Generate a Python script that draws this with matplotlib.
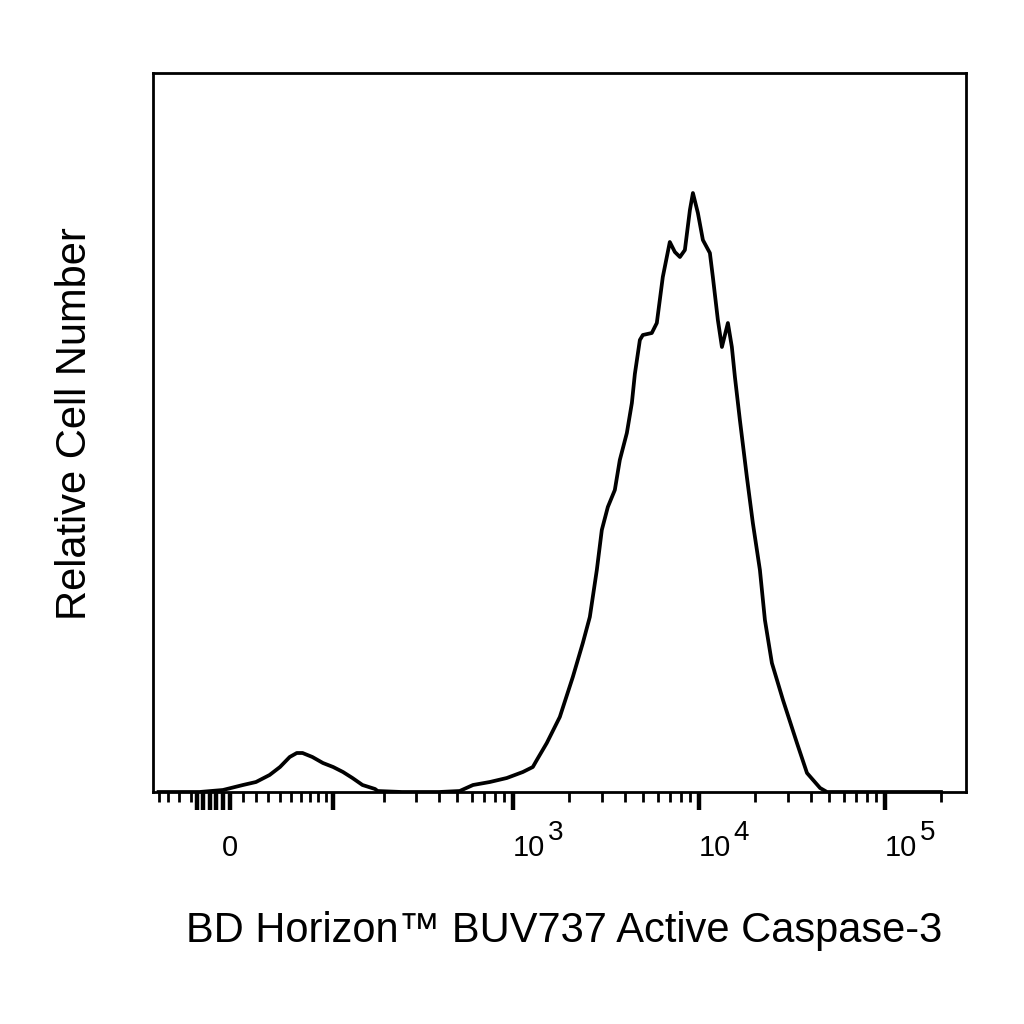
import numpy as np
import matplotlib.pyplot as plt
import matplotlib.transforms as mtransforms

plt.rcParams.update({
    'font.family': 'Liberation Sans',
})

# Histogram trace (fluorescence value, relative count)
dim_x = [-60, -23, -5, 10, 20, 31, 40, 49, 56, 62, 73, 86, 100, 115, 131, 150, 177, 183, 250, 400]
dim_y = [0, 0, 2, 7, 10, 17, 25, 35, 39, 39, 35, 29, 25, 20, 14, 7, 3, 1, 0, 0]

bright_x = [517, 610, 752, 928, 1132, 1281, 1346, 1523, 1789, 2102, 2379, 2594, 2829,
            3009, 3242, 3535, 3760, 4102, 4365, 4529, 4819, 5000, 5585, 5943, 6400,
            6980, 7430, 7910, 8410, 8950, 9290, 9880, 10510, 11460, 11890, 12650,
            13300, 14320, 15040, 15620, 16610, 18110, 19500, 21280, 22640, 24680,
            28310, 33650, 38100, 44800, 48800, 200000]
bright_y = [1, 7, 10, 14, 20, 25, 32, 49, 75, 115, 149, 175, 222,
            262, 285, 302, 332, 359, 389, 418, 452, 457, 459, 469, 515,
            550, 540, 535, 542, 582, 599, 579, 552, 539, 515, 472,
            445, 469, 445, 415, 372, 315, 269, 222, 172, 129,
            92, 49, 19, 4, 0, 0]

major_ticks = [-25, -20, -15, -10, -5, 0, 1e2, 1e3, 1e4, 1e5]
major_labels = ['', '', '', '', '', '0', '', '10', '10', '10']
decade_exps = {1e3: '3', 1e4: '4', 1e5: '5'}
minor_ticks = ([-v for v in range(30, 100, 10)] + list(range(10, 100, 10))
               + [m * 10**e for e in (2, 3, 4) for m in range(2, 10)] + [2e5])

W = 60.2  # width of the linear part of the biexponential axis


def fwd(v):
    return np.arcsinh(np.asarray(v, dtype=float) / W) / np.log(10)


def inv(p):
    return W * np.sinh(np.asarray(p, dtype=float) * np.log(10))


fig = plt.figure(figsize=(10.24, 10.24), dpi=100)
ax = fig.add_axes([153 / 1024, 1 - 792 / 1024, 813 / 1024, 719 / 1024])

ax.plot(dim_x + bright_x, dim_y + bright_y, color='black', lw=2.7,
        solid_joinstyle='round')

ax.set_xscale('function', functions=(fwd, inv))

ax.set_xticks(major_ticks)
ax.set_xticklabels(major_labels, fontsize=21)
ax.set_xticks(minor_ticks, minor=True)
ax.tick_params(axis='x', which='major', direction='out', length=13, width=3.2, pad=17)
ax.tick_params(axis='x', which='minor', direction='out', length=7.5, width=2)
for lab in ax.get_xticklabels()[7:]:
    lab.set_horizontalalignment('left')
ax.set_yticks([])

# limits after the ticks, so the ticks do not stretch the view
ax.set_xlim(-66, 272500)
ax.set_ylim(0, 719)

# exponents of the decade labels
exp_tr = (mtransforms.blended_transform_factory(ax.transData, ax.transAxes)
          + mtransforms.ScaledTranslation(0.35, 0, fig.dpi_scale_trans))
for tick, e in decade_exps.items():
    ax.text(tick, -0.0668, e, transform=exp_tr, fontsize=20,
            ha='left', va='baseline', clip_on=False)

for sp in ax.spines.values():
    sp.set_linewidth(2)

ax.set_ylabel('Relative Cell Number', fontsize=30)
ax.yaxis.set_label_coords(-0.071, 0.513)
ax.set_xlabel('BD Horizon™ BUV737 Active Caspase-3', fontsize=30)
ax.xaxis.set_label_coords(0.5055, -0.166)

fig.savefig('out.png', dpi=100)
